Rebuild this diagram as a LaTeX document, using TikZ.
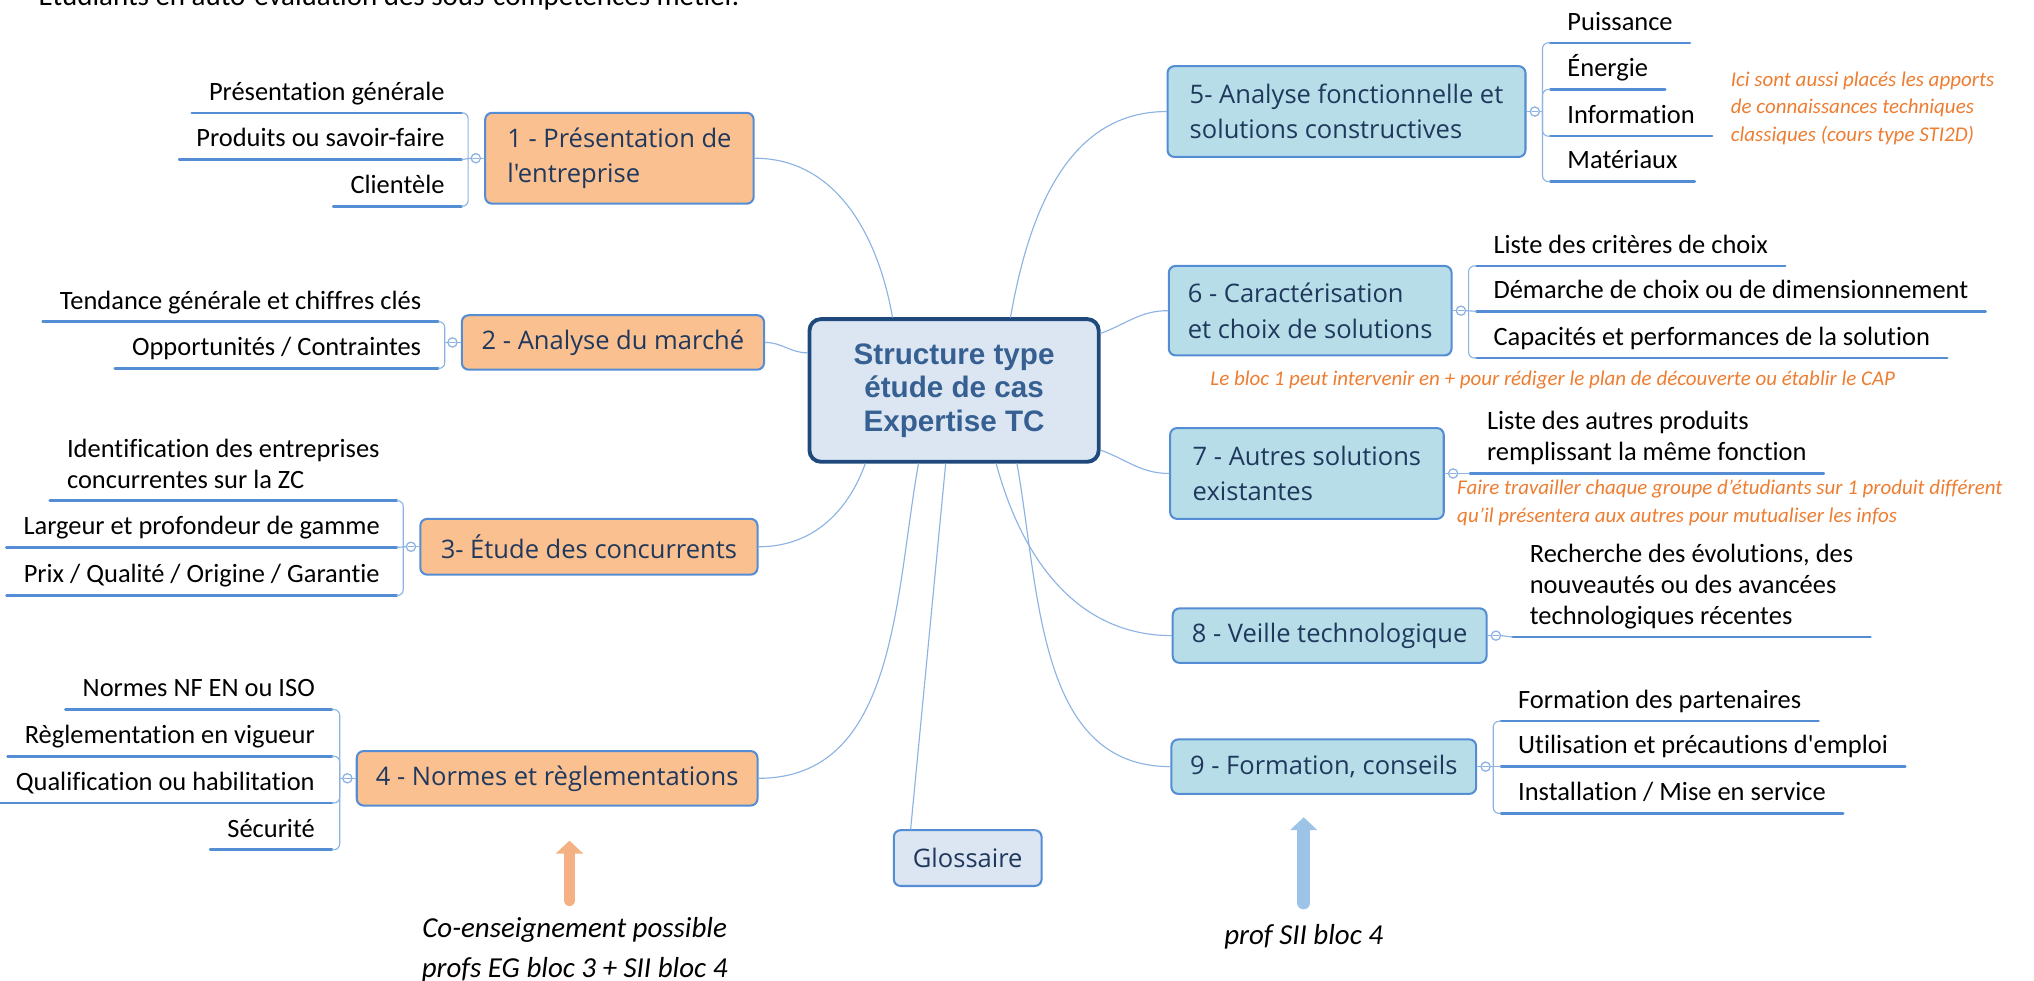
\documentclass[tikz,border=0pt]{standalone}
\usepackage{fontspec}
\setmainfont{Carlito}[Ligatures=NoCommon]
\newfontfamily\boxfont{Open Sans}
\newfontfamily\hubfont{Liberation Sans}
\usetikzlibrary{positioning,arrows.meta}

\definecolor{peach}{RGB}{250,192,144}
\definecolor{sky}{RGB}{183,222,232}
\definecolor{pale}{RGB}{220,230,242}
\definecolor{framecol}{RGB}{84,141,212}
\definecolor{navy}{RGB}{31,73,125}
\definecolor{hubink}{RGB}{54,96,146}
\definecolor{boxink}{RGB}{31,56,92}
\definecolor{wirecol}{RGB}{141,179,226}
\definecolor{notecol}{RGB}{237,125,49}
\definecolor{egcol}{RGB}{244,177,131}
\definecolor{siicol}{RGB}{157,195,230}

\tikzset{
  topic/.style={draw=framecol,line width=0.9pt,rounded corners=3pt,inner xsep=0.28cm,inner ysep=0pt,
    align=left,text=boxink,font=\boxfont\fontsize{11.2}{15.6}\selectfont},
  otopic/.style={topic,fill=peach},
  btopic/.style={topic,fill=sky},
  sub/.style={inner xsep=0.26cm,inner ysep=2.85pt,text depth=0.25em,align=left,
    font=\fontsize{11.6}{13.6}\selectfont},
  uline/.style={draw=framecol,line width=1.1pt},
  wire/.style={draw=wirecol,line width=0.5pt},
  brace/.style={wire,rounded corners=2.5pt},
  knob/.style={circle,draw=wirecol,fill=white,line width=0.5pt,minimum size=0.14cm,inner sep=0pt,
    path picture={\draw[wirecol,line width=0.4pt] ([xshift=-0.045cm]path picture bounding box.center)
      -- ([xshift=0.045cm]path picture bounding box.center);}},
  remark/.style={text=notecol,font=\itshape\fontsize{9.2}{12.2}\selectfont,align=left,inner sep=0pt},
  teacher/.style={font=\itshape\fontsize{12.7}{17.6}\selectfont,align=center,inner sep=0pt},
}

\begin{document}
\begin{tikzpicture}[x=0.02cm,y=0.02cm,line join=round,line cap=round]
\clip (0,0) rectangle (1568,-756);

\node[anchor=base west,inner sep=0pt,font=\fontsize{12.7}{15}\selectfont] (title) at (29.5,-4.6)
  {Étudiants en auto-évaluation des sous-compétences métier.};

% centre
\node[draw=navy,line width=1.7pt,fill=pale,rounded corners=5pt,minimum width=4.46cm,minimum height=2.2cm,
  align=center,text=hubink,font=\hubfont\bfseries\fontsize{13}{14.7}\selectfont] (hub) at (735.5,-301)
  {Structure type\\étude de cas\\Expertise TC};

% left topics
\node[otopic,minimum width=4.14cm,minimum height=1.4cm] (t1) at (477.5,-122) {1 - Présentation de\\l'entreprise};
\node[otopic,minimum width=4.66cm,minimum height=0.84cm] (t2) at (472.5,-264) {2 - Analyse du marché};
\node[otopic,minimum width=5.2cm,minimum height=0.86cm] (t3) at (454,-421.5) {3- Étude des concurrents};
\node[otopic,minimum width=6.18cm,minimum height=0.84cm] (t4) at (429.5,-600) {4 - Normes et règlementations};

% right topics
\node[btopic,minimum width=5.52cm,minimum height=1.4cm] (t5) at (1038,-86) {5- Analyse fonctionnelle et\\solutions constructives};
\node[btopic,minimum width=4.36cm,minimum height=1.38cm] (t6) at (1010,-239.5) {6 - Caractérisation\\et choix de solutions};
\node[btopic,minimum width=4.22cm,minimum height=1.4cm] (t7) at (1007.5,-365) {7 - Autres solutions\\existantes};
\node[btopic,minimum width=4.84cm,minimum height=0.84cm] (t8) at (1025,-490) {8 - Veille technologique};
\node[btopic,minimum width=4.7cm,minimum height=0.84cm] (t9) at (1020.5,-591) {9 - Formation, conseils};
\node[topic,fill=pale,align=center,minimum width=2.28cm,minimum height=0.86cm] (glo) at (746,-661.5) {Glossaire};

% hub connectors
\draw[wire] ([xshift=-0.95cm]hub.north) to[out=100,in=0] (t1.east);
\draw[wire] ([yshift=0.58cm]hub.west) to[out=180,in=0] (t2.east);
\draw[wire] ([xshift=-1.37cm]hub.south) to[out=-110,in=0] (t3.east);
\draw[wire] ([xshift=-0.55cm]hub.south) to[out=-100,in=0] (t4.east);
\draw[wire] ([xshift=-0.13cm]hub.south) -- ([xshift=-0.88cm]glo.north);
\draw[wire] ([xshift=0.87cm]hub.north) to[out=80,in=180] (t5.west);
\draw[wire] ([yshift=0.88cm]hub.east) to[out=20,in=180] (t6.west);
\draw[wire] ([yshift=-0.92cm]hub.east) to[out=-20,in=180] (t7.west);
\draw[wire] ([xshift=0.65cm]hub.south) to[out=-75,in=180] (t8.west);
\draw[wire] ([xshift=0.97cm]hub.south) to[out=-80,in=180] (t9.west);

% sub topics, left
\node[sub,anchor=south east] (p11) at (356,-87) {Présentation générale};
\node[sub,anchor=south east] (p12) at (356,-123) {Produits ou savoir-faire};
\node[sub,anchor=south east] (p13) at (356,-159) {Clientèle};
\node[sub,anchor=south east] (p21) at (338,-248) {Tendance générale et chiffres clés};
\node[sub,anchor=south east] (p22) at (338,-284) {Opportunités / Contraintes};
\node[sub,anchor=south east] (p31) at (306,-386) {Identification des entreprises\\concurrentes sur la ZC};
\node[sub,anchor=south east] (p32) at (306,-422) {Largeur et profondeur de gamme};
\node[sub,anchor=south east] (p33) at (306,-459) {Prix / Qualité / Origine / Garantie};
\node[sub,anchor=south east] (p41) at (256,-547) {Normes NF EN ou ISO};
\node[sub,anchor=south east] (p42) at (256,-583) {Règlementation en vigueur};
\node[sub,anchor=south east] (p43) at (256,-619) {Qualification ou habilitation};
\node[sub,anchor=south east] (p44) at (256,-655) {Sécurité};

% sub topics, right
\node[sub,anchor=south west] (p51) at (1195,-33) {Puissance};
\node[sub,anchor=south west] (p52) at (1195,-69) {Énergie};
\node[sub,anchor=south west] (p53) at (1195,-105) {Information};
\node[sub,anchor=south west] (p54) at (1195,-140) {Matériaux};
\node[sub,anchor=south west] (p61) at (1138,-205) {Liste des critères de choix};
\node[sub,anchor=south west] (p62) at (1138,-240) {Démarche de choix ou de dimensionnement};
\node[sub,anchor=south west] (p63) at (1138,-276) {Capacités et performances de la solution};
\node[sub,anchor=south west] (p71) at (1133,-365) {Liste des autres produits\\remplissant la même fonction};
\node[sub,anchor=south west] (p81) at (1166,-491) {Recherche des évolutions, des\\nouveautés ou des avancées\\technologiques récentes};
\node[sub,anchor=south west] (p91) at (1157,-556) {Formation des partenaires};
\node[sub,anchor=south west] (p92) at (1157,-591) {Utilisation et précautions d\textquotesingle emploi};
\node[sub,anchor=south west] (p93) at (1157,-627) {Installation / Mise en service};

\foreach \s in {p11,p12,p13,p21,p22,p31,p32,p33,p41,p42,p43,p44,p51,p52,p53,p54,p61,p62,p63,p71,p81,p91,p92,p93}
  \draw[uline] (\s.south west) -- (\s.south east);

% knobs and braces
\node[knob,left=0.05cm of t1] (k1) {};
\node[knob,left=0.05cm of t2] (k2) {};
\node[knob,left=0.05cm of t3] (k3) {};
\node[knob,left=0.05cm of t4] (k4) {};
\node[knob,right=0.05cm of t5] (k5) {};
\node[knob,right=0.05cm of t6] (k6) {};
\node[knob,right=0.05cm of t7] (k7) {};
\node[knob,right=0.05cm of t8] (k8) {};
\node[knob,right=0.05cm of t9] (k9) {};
\foreach \k/\t in {k1/t1,k2/t2,k3/t3,k4/t4}
  \draw[wire] (\k.east) -- (\t.west);
\foreach \k/\t in {k5/t5,k6/t6,k7/t7,k8/t8,k9/t9}
  \draw[wire] (\k.west) -- (\t.east);

\foreach \k/\s in {k1/p11,k1/p13,k2/p21,k2/p22,k3/p31,k3/p33,k4/p41,k4/p42,k4/p43,k4/p44}
  \draw[brace] ([xshift=-0.04cm]\k.west) |- (\s.south east);
\foreach \k/\s in {k1/p12,k3/p32}
  \draw[wire] (\k.west) -- (\s.south east);
\foreach \k/\s in {k5/p51,k5/p52,k5/p53,k5/p54,k6/p61,k6/p63,k9/p91,k9/p93}
  \draw[brace] ([xshift=0.04cm]\k.east) |- (\s.south west);
\foreach \k/\s in {k6/p62,k7/p71,k8/p81,k9/p92}
  \draw[wire] (\k.east) -- (\s.south west);
\foreach \k in {k1,k2,k3,k4}
  \draw[wire] (\k.west) -- ++(-2,0);
\foreach \k in {k5,k6,k9}
  \draw[wire] (\k.east) -- ++(2,0);
\foreach \k in {k1,k2,k3,k4,k5,k6,k7,k8,k9}
  \node[knob] at (\k) {};

% notes
\node[remark,anchor=west] (r5) at (1334,-83.5) {Ici sont aussi placés les apports\\de connaissances techniques\\classiques (cours type STI2D)};
\node[remark] (r6) at (1197,-293) {Le bloc 1 peut intervenir en + pour rédiger le plan de découverte ou établir le CAP};
\node[remark,anchor=west] (r7) at (1123,-388) {Faire travailler chaque groupe d’étudiants sur 1 produit différent\\qu’il présentera aux autres pour mutualiser les infos};

\node[teacher] (eg) at (443,-732) {Co-enseignement possible\\profs EG bloc 3 + SII bloc 4};
\node[teacher] (sii) at (1005,-722) {prof SII bloc 4};
\coordinate (egfoot) at (439,-694);
\coordinate (egtip) at (439,-648);
\coordinate (siifoot) at (1005,-696);
\coordinate (siitip) at (1005,-630);
\draw[egcol,line width=0.18cm,-{Triangle[width=0.41cm,length=0.2cm]}] (egfoot) -- (egtip);
\draw[siicol,line width=0.2cm,-{Triangle[width=0.41cm,length=0.2cm]}] (siifoot) -- (siitip);
\end{tikzpicture}
\end{document}
